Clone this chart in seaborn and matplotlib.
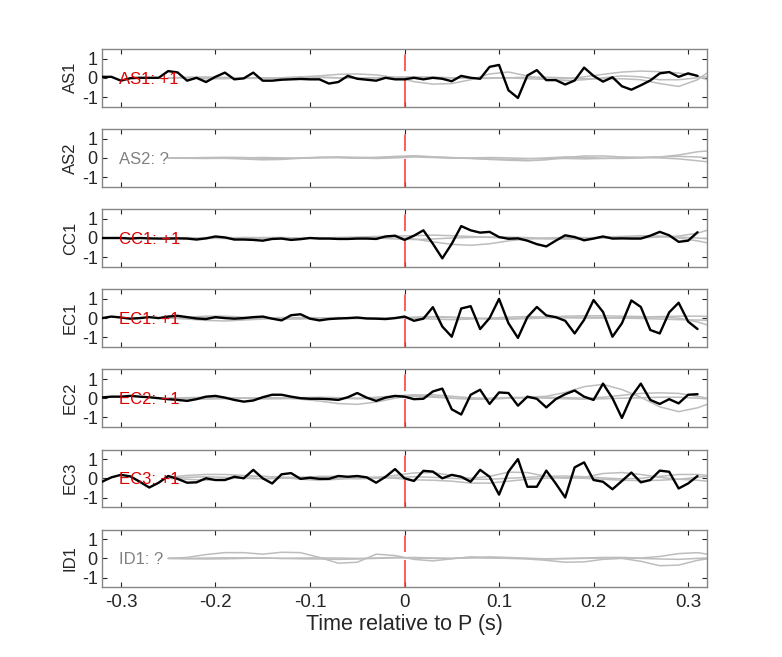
import numpy as np
import pandas as pd
import seaborn as sns
import matplotlib.pyplot as plt

# stations, top to bottom
stations = ["AS1", "AS2", "CC1", "EC1", "EC2", "EC3", "ID1"]
polarity = ["+1", "?", "+1", "+1", "+1", "+1", "?"]

# time axes (s): black trace every 0.01 s, gray traces every 0.02 s
t_black = np.round(np.arange(-32, 32) * 0.01, 2)
t_gray = np.round(np.arange(30) * 0.02 - 0.25, 2)

as1_black = [0.05, 0.05, -0.15, -0.02, 0.0, 0.0, 0.0, 0.35, 0.28, -0.15, 0.0, -0.22, 0.05, 0.27, -0.08, -0.03,
             0.27, -0.15, -0.15, -0.1, -0.08, -0.06, -0.08, -0.08, -0.3, -0.22, 0.1, -0.05, -0.1, -0.15, 0.0, -0.08,
             -0.08, 0.0, -0.08, 0.0, -0.05, -0.18, 0.1, 0.0, -0.05, 0.57, 0.67, -0.65, -1.05, 0.12, 0.4, -0.12,
             -0.12, -0.35, -0.14, 0.53, 0.1, -0.2, 0.03, -0.44, -0.62, -0.39, -0.14, 0.23, 0.3, 0.05, 0.23, 0.1]
cc1_black = [0.0, 0.0, 0.0, -0.03, 0.0, -0.02, -0.03, -0.03, -0.02, -0.03, -0.08, -0.02, 0.08, 0.03, -0.08, -0.08,
             -0.1, -0.14, -0.05, -0.03, -0.1, -0.06, 0.0, -0.03, -0.03, -0.05, -0.05, -0.03, -0.03, -0.05, 0.08, 0.12,
             -0.1, 0.12, 0.4, -0.3, -1.06, -0.3, 0.62, 0.4, 0.28, 0.32, 0.05, -0.04, -0.02, -0.14, -0.32, -0.44,
             -0.14, 0.14, 0.05, -0.12, -0.03, 0.08, -0.03, -0.02, -0.03, -0.03, 0.12, 0.32, 0.14, -0.2, -0.14, 0.3]
ec1_black = [0.0, 0.08, 0.03, -0.03, 0.0, 0.05, 0.0, 0.08, 0.12, 0.05, -0.02, -0.05, 0.05, 0.0, -0.03, 0.0,
             0.05, 0.08, -0.03, -0.12, 0.15, 0.2, -0.03, -0.12, -0.05, -0.02, 0.0, 0.03, -0.02, -0.03, -0.05, 0.0,
             0.08, -0.14, -0.03, 0.57, -0.44, -0.97, 0.5, 0.62, -0.57, 0.0, 1.0, -0.27, -1.03, 0.05, 0.58, 0.14,
             0.05, -0.14, -0.8, -0.09, 0.94, 0.32, -0.97, -0.27, 0.92, 0.58, -0.62, -0.8, 0.3, 0.8, -0.18, -0.57]
ec2_black = [0.04, 0.08, 0.08, 0.12, 0.08, 0.05, 0.0, -0.05, -0.09, -0.14, -0.05, 0.08, 0.12, 0.03, -0.09, -0.18,
             -0.12, 0.05, 0.18, 0.18, 0.08, 0.0, -0.03, -0.03, -0.05, -0.09, 0.05, 0.27, 0.03, -0.14, 0.03, 0.12,
             0.08, -0.05, -0.03, 0.35, 0.5, -0.58, -0.85, 0.18, 0.44, -0.3, 0.3, 0.27, -0.39, 0.08, -0.03, -0.48,
             -0.05, 0.21, 0.4, 0.08, -0.09, 0.76, 0.0, -1.03, 0.08, 0.76, -0.09, -0.3, -0.05, -0.27, 0.18, 0.21]
ec3_black = [-0.18, 0.05, 0.18, 0.1, -0.18, -0.48, -0.23, 0.12, -0.03, -0.23, -0.21, 0.0, -0.09, -0.09, 0.08, 0.0,
             0.44, 0.0, -0.27, 0.21, 0.27, -0.03, 0.03, -0.03, -0.03, 0.12, 0.08, 0.12, 0.05, -0.23, 0.08, 0.48,
             0.0, -0.14, 0.39, 0.35, 0.0, 0.18, 0.08, -0.18, 0.44, 0.08, -0.85, 0.35, 1.0, -0.44, -0.44, 0.4,
             -0.27, -1.0, 0.57, 0.83, -0.09, -0.18, -0.57, -0.14, 0.3, -0.21, -0.09, 0.4, 0.34, -0.53, -0.27, 0.12]
black_traces = {"AS1": as1_black, "CC1": cc1_black, "EC1": ec1_black, "EC2": ec2_black, "EC3": ec3_black}

# gray (synthetic) traces, three per station
as1_gray = [
    [0, 0, -0.05, -0.05, 0, 0, 0, 0.05, 0.1, 0.18, 0.2, 0.15, 0.02, -0.2, -0.33, -0.3, -0.1, 0.2, 0.3, 0.1,
     -0.1, -0.15, -0.1, 0.0, 0.1, 0.05, -0.1, -0.1, 0.0, 0.1],
    [0, 0.02, 0.03, 0.02, 0, -0.02, -0.02, 0, 0.02, 0, -0.02, 0, 0.02, 0.03, 0.02, 0, 0, 0, 0, -0.05,
     -0.08, -0.05, 0.05, 0.18, 0.3, 0.35, 0.32, 0.25, 0.1, -0.3],
    [0, 0.02, 0.03, 0, -0.03, -0.03, 0, 0.03, 0.03, 0, -0.02, 0, 0.03, 0.05, 0.03, 0, -0.03, -0.03, 0, 0.03,
     0.03, 0, -0.05, -0.05, -0.05, -0.1, -0.3, -0.45, -0.1, 0.6],
]
as2_gray = [
    [0, 0, 0, -0.02, -0.06, -0.1, -0.08, -0.02, 0.03, 0.05, 0.03, 0.02, 0.08, 0.1, 0.05, 0, -0.03, -0.08, -0.12, -0.15,
     -0.1, 0.02, 0.1, 0.1, 0.05, 0.03, 0.05, 0.15, 0.32, 0.4],
    [0, 0, 0.02, 0.03, 0.02, -0.02, -0.03, 0, 0.03, 0.02, -0.02, 0.02, 0.05, 0.1, 0.06, 0.02, -0.02, -0.05, -0.08, -0.05,
     0.0, 0.05, 0.03, -0.02, -0.03, 0.0, 0.05, 0.08, 0.05, -0.05],
    [0, -0.02, -0.03, -0.02, 0, 0.02, 0, -0.02, 0, 0.02, 0, -0.03, 0, 0.05, 0.02, -0.02, 0, 0.02, 0, -0.03,
     -0.05, -0.03, -0.05, -0.03, 0.0, 0.02, 0.0, -0.05, -0.15, -0.25],
]
cc1_gray = [
    [0, 0.02, 0, -0.03, -0.02, 0.02, 0.03, 0, -0.03, -0.02, 0.02, 0.05, 0.05, -0.05, -0.2, -0.33, -0.38, -0.3, -0.15, -0.05,
     0, 0.03, 0.02, 0, -0.02, 0, 0.05, 0.1, 0.25, 0.55],
    [0, -0.02, -0.03, 0, 0.03, 0.02, -0.02, -0.03, 0, 0.03, 0.05, 0.08, 0.1, 0.12, 0.15, 0.12, 0.08, 0.03, 0, -0.02,
     -0.05, -0.03, 0, 0.05, 0.08, 0.12, 0.1, 0.0, -0.15, -0.35],
    [0, 0, 0.02, 0.03, 0, -0.03, -0.02, 0, 0.02, 0, -0.02, 0, -0.05, -0.08, -0.05, 0, 0.03, 0.05, 0.05, 0.02,
     -0.02, -0.05, -0.05, 0, 0.03, 0.05, 0.08, 0.05, 0, -0.05],
]
ec1_gray = [
    [0, 0.05, 0.1, 0.1, 0.05, 0, -0.05, -0.05, 0, 0.03, 0, -0.03, 0, 0.05, 0.08, 0.05, 0, -0.05, -0.03, 0.02,
     0.05, 0.1, 0.12, 0.12, 0.1, 0.08, 0.05, 0.0, -0.2, -0.5],
    [0, -0.05, -0.12, -0.15, -0.1, -0.05, 0, 0.03, 0.02, -0.02, -0.03, 0, 0.03, 0.0, -0.05, -0.08, -0.05, 0, 0.05, 0.08,
     0.05, 0.02, 0, 0, 0.02, 0.05, 0.08, 0.1, 0.1, 0.08],
    [0, 0, 0.02, 0, -0.03, 0, 0.03, 0, -0.03, 0, 0.02, 0, -0.02, 0.02, 0.05, 0.03, 0, -0.03, -0.05, -0.03,
     0, 0.03, 0.05, 0.03, 0, -0.02, -0.05, -0.08, -0.1, -0.12],
]
ec2_gray = [
    [0, 0, 0.02, 0.03, 0, -0.03, -0.03, 0, 0.02, 0, -0.03, 0, 0.08, 0.1, 0.05, 0, -0.02, 0, 0.03, 0.05,
     0.1, 0.3, 0.6, 0.72, 0.45, 0.05, -0.45, -0.7, -0.5, -0.15],
    [0, -0.03, -0.05, -0.03, 0, 0.03, 0.02, -0.05, -0.15, -0.28, -0.32, -0.2, 0.0, 0.15, 0.18, 0.1, 0.02, -0.02, 0, 0.03,
     0.05, 0.03, 0, 0.05, 0.15, 0.25, 0.28, 0.25, 0.1, -0.1],
    [0, 0.03, 0.05, 0.03, 0, -0.02, 0, 0.03, 0.05, 0.03, 0, 0.05, 0.12, 0.18, 0.1, 0, -0.05, -0.05, 0, 0.03,
     0, -0.03, -0.05, -0.03, 0, 0.02, 0.05, 0.05, 0, -0.05],
]
ec3_gray = [
    [0.05, 0.15, 0.2, 0.2, 0.15, 0.1, 0.05, 0.05, 0.1, 0.1, 0.05, 0.05, 0.15, 0.28, 0.3, 0.15, 0.0, 0.1, 0.32, 0.3,
     0.1, 0.0, 0.05, 0.25, 0.3, 0.2, 0.05, -0.05, 0.05, 0.15],
    [0, -0.05, -0.1, -0.05, 0.05, 0.1, 0.05, -0.05, -0.1, -0.05, 0.03, 0.05, 0.0, -0.08, -0.1, -0.15, -0.25, -0.25, -0.15, -0.05,
     0.0, 0.03, 0.0, -0.05, -0.1, -0.12, -0.1, -0.05, -0.1, -0.2],
    [0, 0.05, 0.08, 0.05, 0.0, -0.03, 0, 0.05, 0.05, 0, -0.03, 0, 0.05, 0.08, 0.05, 0, -0.05, -0.05, 0, 0.05,
     0.1, 0.12, 0.08, 0.02, -0.03, 0.0, 0.1, 0.2, 0.2, 0.1],
]
id1_gray = [
    [0, 0.05, 0.2, 0.3, 0.3, 0.22, 0.32, 0.3, 0.05, -0.25, -0.2, 0.22, 0.15, -0.05, -0.13, -0.02, 0.08, 0.02, 0.0, -0.03,
     -0.1, -0.2, -0.18, -0.05, 0.0, -0.15, -0.38, -0.35, -0.1, 0.05],
    [0, 0, 0.02, 0.03, 0.03, 0.02, 0.0, 0.02, 0.03, 0.02, 0.0, 0.02, 0.05, 0.02, 0.0, 0.0, 0.02, 0.03, 0.02, 0.0,
     -0.02, 0.0, 0.02, 0.05, 0.05, 0.02, 0.1, 0.25, 0.3, 0.15],
    [0, -0.02, -0.03, -0.02, 0, 0.02, 0, -0.02, -0.03, -0.05, -0.03, 0.0, 0.03, 0.05, 0.02, 0.0, 0.05, 0.08, 0.05, 0.0,
     -0.03, -0.02, 0.0, 0.02, 0.03, 0.0, -0.03, -0.05, 0.0, 0.03],
]
gray_traces = {"AS1": as1_gray, "AS2": as2_gray, "CC1": cc1_gray, "EC1": ec1_gray,
               "EC2": ec2_gray, "EC3": ec3_gray, "ID1": id1_gray}

sns.set_theme(style="ticks")
plt.rcParams["font.family"] = ["Liberation Sans", "DejaVu Sans"]
plt.rcParams["axes.unicode_minus"] = False

FRAME = "#858585"
fig = plt.figure(figsize=(7.82, 6.57), dpi=100)
W, H = 782, 657

for i, st in enumerate(stations):
    top = 49 + 80.1 * i
    ax = fig.add_axes([102 / W, 1 - (top + 57.6) / H, 605 / W, 57.6 / H])

    for k, g in enumerate(gray_traces[st]):
        df = pd.DataFrame({"t": t_gray, "amp": g})
        sns.lineplot(data=df, x="t", y="amp", ax=ax, color="#bdbdbd", linewidth=1.1, zorder=1)

    ax.plot([0, 0], [1.5, -1.5], color="#ff3030", linewidth=1.1,
            linestyle=(0, (0.01, 3.6, 10.8, 5.2, 40)), zorder=2)

    if st in black_traces:
        df = pd.DataFrame({"t": t_black, "amp": black_traces[st]})
        sns.lineplot(data=df, x="t", y="amp", ax=ax, color="black", linewidth=1.7, zorder=3)

    col = "#808080" if polarity[i] == "?" else "#dd0000"
    ax.text(-0.302, -0.08, f"{st}: {polarity[i]}", color=col, fontsize=12,
            ha="left", va="center", zorder=4)

    ax.set_xlim(-0.32, 0.32)
    ax.set_ylim(-1.5, 1.5)
    ax.set_yticks([-1, 0, 1])
    ax.set_xticks([-0.3, -0.2, -0.1, 0, 0.1, 0.2, 0.3])
    ax.set_yticklabels(["-1", "0", "1"])
    ax.set_ylabel(st, fontsize=12, color="#262626", labelpad=3)
    ax.set_xlabel("")
    ax.tick_params(direction="in", top=True, right=True, length=3.5, width=0.8,
                   color="#262626", labelsize=13, labelcolor="#262626", pad=3)
    for sp in ax.spines.values():
        sp.set_color(FRAME)
        sp.set_linewidth(1.0)
    if i < len(stations) - 1:
        ax.set_xticklabels([])
    else:
        ax.set_xticklabels(["-0.3", "-0.2", "-0.1", "0", "0.1", "0.2", "0.3"])
        ax.tick_params(axis="x", labelsize=13.5, pad=5)
        ax.set_xlabel("Time relative to P (s)", fontsize=15.5, color="#262626", labelpad=2)

fig.savefig("out.png", dpi=100)
